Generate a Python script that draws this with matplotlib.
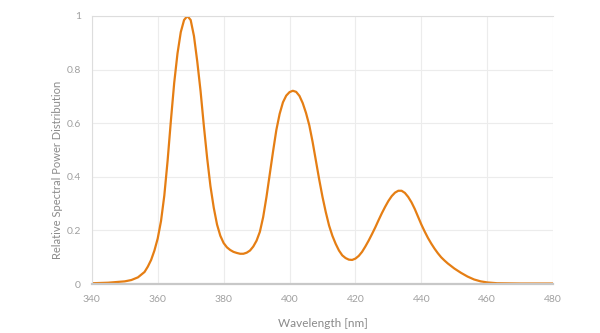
import matplotlib
matplotlib.use("Agg")
import matplotlib.pyplot as plt

# relative spectral power, read off at roughly 1 nm steps around the peaks
wavelength = [340, 345, 350, 352, 354, 356, 357, 358, 359, 360, 361, 362, 363, 364,
              365, 366, 367, 368, 369, 370, 371, 372, 373, 374, 375, 376, 377, 378,
              379, 380, 381, 382, 383, 384, 385, 386, 387, 388, 389, 390, 391, 392, 393, 394, 395,
              396, 397, 398, 399, 400, 401, 402, 403, 404, 405, 406, 407, 408, 409,
              410, 411, 412, 413, 414, 415, 416, 417, 418, 419, 420, 421, 422, 423,
              424, 425, 426, 427, 428, 429, 430, 431, 432, 433, 434, 435, 436, 437,
              438, 439, 440, 441, 442, 443, 444, 445, 446, 447, 448, 450, 452, 454,
              456, 458, 460, 463, 470, 480]
power = [0.003, 0.005, 0.01, 0.015, 0.025, 0.045, 0.065, 0.09, 0.125, 0.17, 0.235, 0.33, 0.46, 0.61,
         0.75, 0.86, 0.94, 0.985, 1.0, 0.985, 0.925, 0.83, 0.72, 0.59, 0.47, 0.365, 0.285, 0.222,
         0.18, 0.153, 0.137, 0.127, 0.12, 0.116, 0.113, 0.113, 0.117, 0.125, 0.14, 0.162, 0.195, 0.25, 0.325, 0.41, 0.495,
         0.575, 0.635, 0.678, 0.703, 0.716, 0.721, 0.717, 0.702, 0.675, 0.638, 0.592, 0.53, 0.46, 0.39,
         0.325, 0.268, 0.218, 0.18, 0.15, 0.125, 0.107, 0.097, 0.091, 0.09, 0.095, 0.105, 0.12, 0.14,
         0.162, 0.186, 0.211, 0.238, 0.264, 0.288, 0.31, 0.328, 0.341, 0.348, 0.348, 0.34, 0.325, 0.305,
         0.28, 0.251, 0.222, 0.196, 0.172, 0.151, 0.132, 0.115, 0.1, 0.088, 0.077, 0.058, 0.042, 0.028,
         0.017, 0.01, 0.006, 0.003, 0.002, 0.002]

x_ticks = [340, 360, 380, 400, 420, 440, 460, 480]
y_ticks = [0, 0.2, 0.4, 0.6, 0.8, 1]
y_labels = ["0", "0.2", "0.4", "0.6", "0.8", "1"]

plt.rcParams["font.family"] = ["Lato", "DejaVu Sans"]

fig = plt.figure(figsize=(6, 3.33), dpi=100)
ax = fig.add_axes([0.153, 0.147, 0.769, 0.805])

ax.plot(wavelength, power, color="#e57e14", lw=1.6,
        solid_capstyle="round", solid_joinstyle="round")

ax.set_xlim(340, 480)
ax.set_ylim(0, 1)
ax.set_xticks(x_ticks)
ax.set_yticks(y_ticks)
ax.set_yticklabels(y_labels)
ax.tick_params(length=0, labelsize=7.5, labelcolor="#a0a0a0", pad=8)
ax.grid(color="#ececec", lw=0.8)
ax.set_axisbelow(True)

ax.spines["right"].set_visible(False)
ax.spines["top"].set_color("#dddddd")
ax.spines["left"].set_color("#dddddd")
ax.spines["bottom"].set_color("#c8c8c8")
ax.spines["bottom"].set_linewidth(1.6)

ax.set_xlabel("Wavelength [nm]", fontsize=8.5, color="#8a8a8a", labelpad=10)
ax.set_ylabel("Relative Spectral Power Distribution", fontsize=8, color="#8a8a8a")
ax.yaxis.set_label_coords(-0.063, 0.425)

fig.savefig("out.png", dpi=100)
